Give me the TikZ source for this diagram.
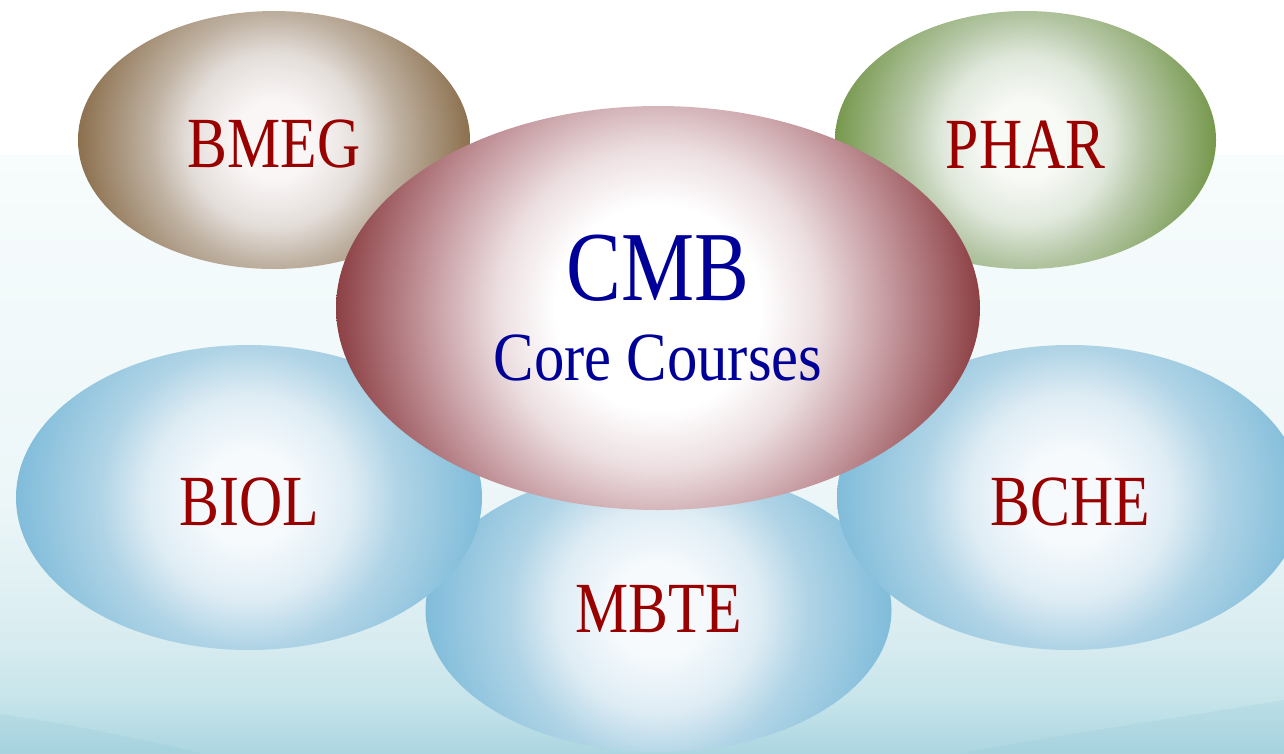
\documentclass[tikz,border=0pt]{standalone}
\usepackage{fontspec}
\usetikzlibrary{shapes.geometric}
\newfontfamily\lblfont[FakeStretch=0.83]{Liberation Serif}
\newfontfamily\corefont[FakeStretch=0.88]{Liberation Serif}
\definecolor{lblred}{RGB}{153,0,0}
\definecolor{cmbblue}{RGB}{0,0,153}
\definecolor{bgA}{RGB}{172,214,225}
\definecolor{bgB}{RGB}{198,228,234}
\definecolor{bgC}{RGB}{216,236,240}
\definecolor{bgD}{RGB}{236,246,248}
\definecolor{bgE}{RGB}{247,252,252}
\definecolor{waveC}{RGB}{140,196,212}
\pgfdeclareverticalshading{bgsh}{100bp}{color(0bp)=(bgA); color(25bp)=(bgA); color(29.4bp)=(bgB); color(34.4bp)=(bgC); color(46bp)=(bgD); color(75bp)=(bgE); color(100bp)=(bgE)}
% bubble shadings: white centre, coloured rim
\definecolor{blueO}{RGB}{128,188,218}
\definecolor{blueM}{RGB}{176,212,230}
\definecolor{blueL}{RGB}{222,236,244}
\definecolor{blueW}{RGB}{246,250,253}
\pgfdeclareradialshading{bluesh}{\pgfpoint{0bp}{0bp}}{color(0bp)=(blueW); color(5bp)=(blueW); color(11bp)=(blueL); color(16bp)=(blueM); color(25bp)=(blueO); color(50bp)=(blueO)}
\definecolor{brownO}{RGB}{140,112,78}
\definecolor{brownM}{RGB}{190,176,160}
\definecolor{brownL}{RGB}{228,222,218}
\definecolor{brownW}{RGB}{250,246,246}
\pgfdeclareradialshading{brownsh}{\pgfpoint{0bp}{0bp}}{color(0bp)=(brownW); color(5bp)=(brownW); color(11bp)=(brownL); color(16bp)=(brownM); color(25bp)=(brownO); color(50bp)=(brownO)}
\definecolor{greenO}{RGB}{118,152,76}
\definecolor{greenM}{RGB}{180,198,164}
\definecolor{greenL}{RGB}{224,232,220}
\definecolor{greenW}{RGB}{248,250,246}
\pgfdeclareradialshading{greensh}{\pgfpoint{0bp}{0bp}}{color(0bp)=(greenW); color(5bp)=(greenW); color(11bp)=(greenL); color(16bp)=(greenM); color(25bp)=(greenO); color(50bp)=(greenO)}
\definecolor{redO}{RGB}{140,64,68}
\definecolor{redM}{RGB}{196,152,158}
\definecolor{redL}{RGB}{236,222,224}
\definecolor{redW}{RGB}{255,255,255}
\pgfdeclareradialshading{redsh}{\pgfpoint{0bp}{0bp}}{color(0bp)=(redW); color(8bp)=(redW); color(12.5bp)=(redL); color(18bp)=(redM); color(25bp)=(redO); color(50bp)=(redO)}
\tikzset{
  bubble/.style n args={3}{ellipse, inner sep=0pt, outer sep=0pt,
    minimum width=#2, minimum height=#3,
    path picture={\shade[shading=#1] (path picture bounding box.center) circle[radius=0.5*#2];}},
  lbl/.style={font=\lblfont\fontsize{72}{72}\selectfont, text=lblred, text depth=0pt, text height=#1},
  cmblbl/.style={font=\lblfont\fontsize{99}{80}\selectfont, text=cmbblue, align=center}
}
\begin{document}
\begin{tikzpicture}[x=1pt,y=-1pt]
\useasboundingbox (0,0) rectangle (1284,753);
\clip (0,0) rectangle (1284,753);
% background
\fill[white] (0,0) rectangle (1284,155);
\shade[shading=bgsh] (0,155) rectangle (1284,753);
\fill[waveC, opacity=0.18] (0,714) .. controls (70,724) and (150,741) .. (200,753) -- (0,753) -- cycle;
\fill[waveC, opacity=0.18] (960,753) .. controls (1080,732) and (1200,714) .. (1284,700) -- (1284,753) -- cycle;
% bubbles
\node[bubble={bluesh}{466pt}{284pt}, lbl=45pt] (mbte) at (658.5,610) {MBTE};
\node[bubble={bluesh}{466pt}{305pt}, lbl=55pt] (biol) at (249,497.5) {BIOL};
\node[bubble={bluesh}{466pt}{305pt}, lbl=55pt] (bche) at (1070,497.5) {BCHE};
\node[bubble={brownsh}{392pt}{258pt}, lbl=54pt] (bmeg) at (274,140) {BMEG};
\node[bubble={greensh}{381pt}{258pt}, lbl=56pt] (phar) at (1025.5,140) {PHAR};
\node[bubble={redsh}{644pt}{404pt}, cmblbl] (cmb) at (658,308) {CMB\\{\corefont\fontsize{69}{80}\selectfont Core Courses}};
\end{tikzpicture}
\end{document}
